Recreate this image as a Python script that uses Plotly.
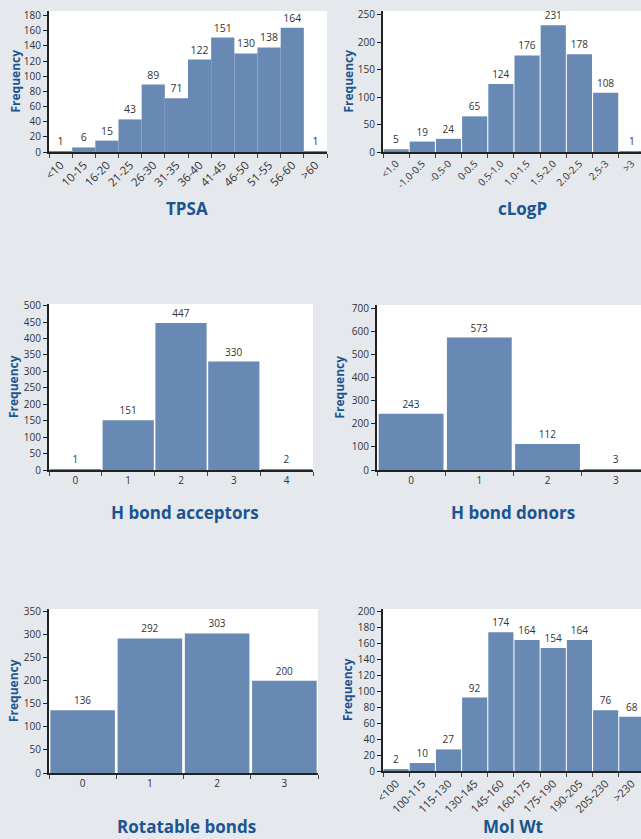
import plotly.graph_objects as go

W, H = 641, 839

tpsa_cats = ["<10", "10-15", "16-20", "21-25", "26-30", "31-35", "36-40", "41-45", "46-50", "51-55", "56-60", ">60"]
tpsa_vals = [1, 6, 15, 43, 89, 71, 122, 151, 130, 138, 164, 1]

clogp_cats = ["<1.0", "-1.0-0.5", "-0.5-0", "0-0.5", "0.5-1.0", "1.0-1.5", "1.5-2.0", "2.0-2.5", "2.5-3", ">3"]
clogp_vals = [5, 19, 24, 65, 124, 176, 231, 178, 108, 1]

hba_cats = ["0", "1", "2", "3", "4"]
hba_vals = [1, 151, 447, 330, 2]

hbd_cats = ["0", "1", "2", "3"]
hbd_vals = [243, 573, 112, 3]

rot_cats = ["0", "1", "2", "3"]
rot_vals = [136, 292, 303, 200]

mw_cats = ["<100", "100-115", "115-130", "130-145", "145-160", "160-175", "175-190", "190-205", "205-230", ">230"]
mw_vals = [2, 10, 27, 92, 174, 164, 154, 164, 76, 68]

titles = ["TPSA", "cLogP", "H bond acceptors", "H bond donors", "Rotatable bonds", "Mol Wt"]

BAR = "#6889b3"
BG = "#e5e8ed"
BLUE = "#1b5590"
TXT = "#333333"
FONT = "Open Sans"

# panel layout: horizontal pixel span (left, right), vertical pixel span (top, bottom)
panels = [
    dict(cats=tpsa_cats, vals=tpsa_vals, hx=(49, 327), vy=(11, 152), xr=[-0.5, 11.5], yr=[0, 186], dt=20, bw=1.0, ang=-45, fs=11.5, tpos=(187, 208), fx=15),
    dict(cats=clogp_cats, vals=clogp_vals, hx=(383, 641), vy=(11, 152), xr=[-0.5, 9.35], yr=[0, 257], dt=50, bw=0.96, ang=-45, fs=10, tpos=(522, 208), fx=348),
    dict(cats=hba_cats, vals=hba_vals, hx=(49, 313), vy=(304, 470), xr=[-0.5, 4.5], yr=[0, 505], dt=50, bw=0.97, ang=0, fs=10, tpos=(185, 512), fx=13),
    dict(cats=hbd_cats, vals=hbd_vals, hx=(377, 641), vy=(305, 470), xr=[-0.5, 3.37], yr=[0, 714], dt=100, bw=0.95, ang=0, fs=10, tpos=(513, 512), fx=339),
    dict(cats=rot_cats, vals=rot_vals, hx=(49, 318), vy=(609, 773), xr=[-0.5, 3.5], yr=[0, 356], dt=50, bw=0.96, ang=0, fs=10, tpos=(186, 826), fx=13),
    dict(cats=mw_cats, vals=mw_vals, hx=(383, 641), vy=(609, 771), xr=[-0.5, 9.35], yr=[0, 203], dt=20, bw=0.96, ang=-45, fs=11, tpos=(513, 826), fx=347),
]

fig = go.Figure()
annotations = []
for i, p in enumerate(panels, start=1):
    xa = "x" if i == 1 else f"x{i}"
    ya = "y" if i == 1 else f"y{i}"
    fig.add_trace(go.Bar(
        x=p["cats"], y=p["vals"], xaxis=xa, yaxis=ya,
        marker=dict(color=BAR, line=dict(width=0)),
        width=p["bw"],
        text=[str(v) for v in p["vals"]], textposition="outside",
        textfont=dict(family=FONT, size=10.5 if i == 1 else 10, color=TXT),
        cliponaxis=False, showlegend=False, hoverinfo="x+y",
    ))
    l, r = p["hx"]
    t, b = p["vy"]
    suffix = "" if i == 1 else str(i)
    fig.layout["xaxis" + suffix] = dict(
        domain=[l / W, min(r / W, 1.0)], anchor=ya, type="category",
        range=p["xr"], tickson="boundaries", ticks="outside", ticklen=4,
        tickcolor="#444", tickwidth=1,
        showline=True, linecolor="#222", linewidth=2, showgrid=False,
        tickangle=p["ang"], tickfont=dict(family=FONT, size=p["fs"], color=TXT),
        fixedrange=True, automargin=False,
    )
    fig.layout["yaxis" + suffix] = dict(
        domain=[(H - b) / H, (H - t) / H], anchor=xa,
        range=p["yr"], dtick=p["dt"], tick0=0, ticks="outside", ticklen=4,
        tickcolor="#222", tickwidth=1,
        showline=True, linecolor="#222", linewidth=2, showgrid=False, zeroline=False,
        tickfont=dict(family=FONT, size=10, color=TXT), fixedrange=True, automargin=False,
    )
    annotations.append(dict(
        text=titles[i - 1], xref="paper", yref="paper",
        x=p["tpos"][0] / W, y=(H - p["tpos"][1]) / H, xanchor="center", yanchor="middle",
        showarrow=False, font=dict(family=FONT, size=17, color=BLUE, weight="bold"),
    ))
    annotations.append(dict(
        text="Frequency", xref="paper", yref="paper", textangle=-90,
        x=p["fx"] / W, y=(H - (t + b) / 2) / H, xanchor="center", yanchor="middle",
        showarrow=False, font=dict(family=FONT, size=12, color=BLUE, weight="bold"),
    ))

fig.update_layout(
    width=W, height=H, margin=dict(l=0, r=0, t=0, b=0, autoexpand=False),
    paper_bgcolor=BG, plot_bgcolor="white",
    annotations=annotations, showlegend=False,
    font=dict(family=FONT, color=TXT),
)

fig.write_html(
    "out.html",
    config={"displayModeBar": False},
    post_script="document.body.style.margin='0';document.body.style.overflow='hidden';document.documentElement.style.overflow='hidden';",
)
